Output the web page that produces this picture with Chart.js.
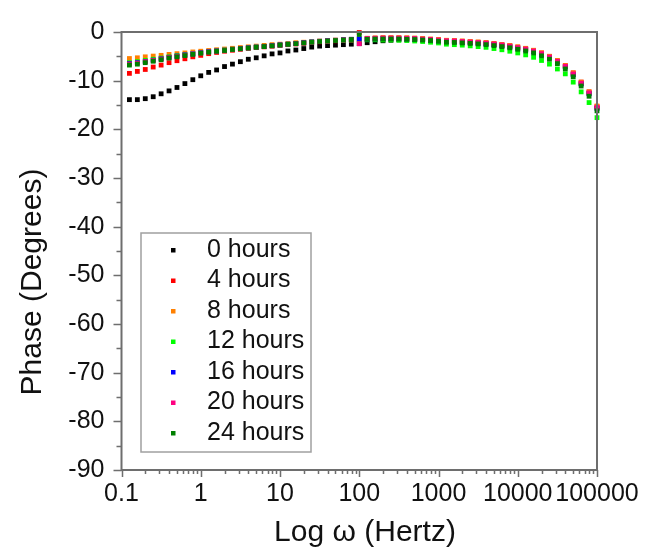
<!DOCTYPE html>
<html>
<head>
<meta charset="utf-8">
<script src="https://cdn.jsdelivr.net/npm/chart.js@4.4.1/dist/chart.umd.min.js"></script>
<style>
  html, body { margin: 0; padding: 0; background: #fff; }
  canvas { display: block; }
</style>
</head>
<body>
<canvas id="phaseChart" width="653" height="555"></canvas>
<script>
// frequencies (Hz), 10 points per decade
const freqs = [
  0.1259, 0.1585, 0.1995, 0.2512, 0.3162, 0.3981, 0.5012, 0.6310, 0.7943, 1,
  1.259, 1.585, 1.995, 2.512, 3.162, 3.981, 5.012, 6.310, 7.943, 10,
  12.59, 15.85, 19.95, 25.12, 31.62, 39.81, 50.12, 63.10, 79.43, 100,
  125.9, 158.5, 199.5, 251.2, 316.2, 398.1, 501.2, 631.0, 794.3, 1000,
  1259, 1585, 1995, 2512, 3162, 3981, 5012, 6310, 7943, 10000,
  12589, 15849, 19953, 25119, 31623, 39811, 50119, 63096, 79433, 100000
];

const hours0 = [
  -13.9, -13.9, -13.7, -13.3, -12.7, -12.1, -11.4, -10.6, -9.8, -9.0,
  -8.3, -7.8, -7.1, -6.6, -6.1, -5.6, -5.3, -4.9, -4.5, -4.3,
  -3.9, -3.7, -3.4, -3.1, -2.9, -2.8, -2.7, -2.6, -2.5, -2.4,
  -2.2, -2.0, -1.8, -1.7, -1.6, -1.6, -1.6, -1.65, -1.75, -1.85,
  -1.95, -2.0, -2.1, -2.2, -2.3, -2.4, -2.6, -2.8, -3.0, -3.3,
  -3.6, -4.0, -4.5, -5.2, -6.1, -7.1, -8.7, -10.6, -12.6, -15.6
];
const hours4 = [
  -8.5, -8.1, -7.7, -7.2, -6.8, -6.3, -5.9, -5.5, -5.1, -4.8,
  -4.45, -4.2, -3.95, -3.75, -3.55, -3.35, -3.2, -3.05, -2.9, -2.75,
  -2.6, -2.45, -2.3, -2.15, -2.0, -1.9, -1.8, -1.7, -1.6, -0.1,
  -1.3, -1.25, -1.2, -1.2, -1.2, -1.25, -1.3, -1.4, -1.5, -1.6,
  -1.75, -1.8, -1.9, -2.0, -2.1, -2.2, -2.4, -2.6, -2.8, -3.1,
  -3.4, -3.8, -4.3, -5.0, -5.9, -6.9, -8.4, -10.3, -12.3, -15.3
];
const hours8 = [
  -5.45, -5.3, -5.1, -4.95, -4.8, -4.6, -4.45, -4.3, -4.1, -3.95,
  -3.8, -3.65, -3.5, -3.35, -3.2, -3.05, -2.9, -2.75, -2.6, -2.5,
  -2.35, -2.2, -2.1, -2.0, -1.85, -1.75, -1.65, -1.55, -1.5, -1.45,
  -1.3, -1.25, -1.2, -1.2, -1.2, -1.2, -1.25, -1.35, -1.45, -1.55,
  -1.7, -1.75, -1.85, -1.95, -2.05, -2.2, -2.35, -2.55, -2.75, -3.05,
  -3.35, -3.75, -4.3, -5.0, -5.9, -6.9, -8.4, -10.3, -12.3, -15.2
];
const hours12 = [
  -6.3, -6.1, -5.85, -5.6, -5.35, -5.1, -4.85, -4.6, -4.4, -4.2,
  -4.0, -3.85, -3.7, -3.55, -3.4, -3.25, -3.1, -2.95, -2.8, -2.65,
  -2.5, -2.35, -2.2, -2.05, -1.95, -1.85, -1.75, -1.7, -1.65, -1.6,
  -1.6, -1.6, -1.65, -1.65, -1.7, -1.75, -1.85, -1.95, -2.1, -2.25,
  -2.5, -2.6, -2.7, -2.85, -3.0, -3.15, -3.4, -3.65, -3.95, -4.3,
  -4.7, -5.2, -5.85, -6.6, -7.6, -8.6, -10.3, -12.3, -14.5, -17.6
];
const hours16 = [
  -6.5, -6.3, -6.05, -5.8, -5.5, -5.2, -4.95, -4.7, -4.5, -4.25,
  -4.05, -3.9, -3.75, -3.55, -3.4, -3.25, -3.1, -2.95, -2.8, -2.65,
  -2.5, -2.35, -2.2, -2.05, -1.9, -1.8, -1.7, -1.6, -1.5, -1.4,
  -1.45, -1.4, -1.35, -1.35, -1.35, -1.4, -1.45, -1.55, -1.65, -1.8,
  -1.95, -2.0, -2.1, -2.2, -2.3, -2.45, -2.6, -2.8, -3.05, -3.35,
  -3.65, -4.05, -4.6, -5.3, -6.2, -7.2, -8.8, -10.7, -12.7, -15.7
];
const hours20 = [
  -6.6, -6.4, -6.1, -5.85, -5.55, -5.25, -5.0, -4.75, -4.5, -4.3,
  -4.1, -3.9, -3.75, -3.6, -3.45, -3.3, -3.15, -3.0, -2.85, -2.7,
  -2.55, -2.4, -2.25, -2.1, -1.95, -1.85, -1.75, -1.65, -1.6, -2.4,
  -1.35, -1.3, -1.25, -1.25, -1.25, -1.3, -1.35, -1.45, -1.55, -1.65,
  -1.8, -1.85, -1.95, -2.05, -2.15, -2.3, -2.45, -2.65, -2.9, -3.2,
  -3.5, -3.9, -4.45, -5.15, -6.05, -7.05, -8.6, -10.5, -12.5, -15.5
];
const hours24 = [
  -6.8, -6.6, -6.3, -6.0, -5.7, -5.35, -5.1, -4.85, -4.6, -4.35,
  -4.15, -3.95, -3.8, -3.6, -3.45, -3.3, -3.15, -3.0, -2.85, -2.7,
  -2.55, -2.4, -2.25, -2.1, -1.95, -1.85, -1.75, -1.65, -1.55, -0.5,
  -1.5, -1.45, -1.45, -1.45, -1.45, -1.5, -1.55, -1.65, -1.75, -1.9,
  -2.1, -2.15, -2.25, -2.35, -2.45, -2.6, -2.8, -3.0, -3.25, -3.55,
  -3.9, -4.3, -4.9, -5.6, -6.5, -7.6, -9.2, -11.1, -13.2, -16.2
];

const seriesLabels = ["0 hours", "4 hours", "8 hours", "12 hours", "16 hours", "20 hours", "24 hours"];
const seriesValues = [hours0, hours4, hours8, hours12, hours16, hours20, hours24];
const seriesColors = ["#000000", "#ff0000", "#ff8000", "#00ff00", "#0000ff", "#ff0080", "#008000"];

const xTicks = [0.1, 1, 10, 100, 1000, 10000, 100000];
const xTickLabels = ["0.1", "1", "10", "100", "1000", "10000", "100000"];
const yTicks = [0, -10, -20, -30, -40, -50, -60, -70, -80, -90];
const xTitle = "Log ω (Hertz)";
const yTitle = "Phase (Degrees)";

const FONT = "'Liberation Sans', Arial, sans-serif";
const AXIS_COLOR = "#6e6e6e";
const TEXT_COLOR = "#111";

// frame + major/minor tick marks
const framePlugin = {
  id: "frame",
  afterDraw(chart) {
    const { ctx, chartArea: a, scales } = chart;
    const xs = scales.x, ys = scales.y;
    ctx.save();
    ctx.strokeStyle = AXIS_COLOR;
    ctx.lineWidth = 2;
    ctx.strokeRect(a.left, a.top, a.right - a.left, a.bottom - a.top);

    ctx.lineWidth = 1.5;
    ctx.beginPath();
    // x ticks, pointing down
    for (let d = 0.1; d <= 100000; d *= 10) {
      for (let m = 1; m <= 9; m++) {
        const v = d * m;
        if (v > 100000 * 1.0001) break;
        const px = Math.round(xs.getPixelForValue(v)) + 0.5;
        const len = m === 1 ? 7 : 4;
        ctx.moveTo(px, a.bottom);
        ctx.lineTo(px, a.bottom + len);
      }
    }
    // y ticks, pointing left
    for (let v = 0; v >= -90; v -= 5) {
      const py = Math.round(ys.getPixelForValue(v)) + 0.5;
      const len = v % 10 === 0 ? 8 : 5;
      ctx.moveTo(a.left, py);
      ctx.lineTo(a.left - len, py);
    }
    ctx.stroke();

    // axis titles
    ctx.fillStyle = TEXT_COLOR;
    ctx.font = "30px " + FONT;
    ctx.textAlign = "center";
    ctx.textBaseline = "middle";
    ctx.fillText(xTitle, 365, 533);
    ctx.translate(33, 282);
    ctx.rotate(-Math.PI / 2);
    ctx.fillText(yTitle, 0, 0);
    ctx.restore();
  }
};

// legend box inside the plot
const legendPlugin = {
  id: "insideLegend",
  afterDraw(chart) {
    const { ctx } = chart;
    const box = { x: 141, y: 233, w: 170, h: 219 };
    ctx.save();
    ctx.fillStyle = "#fff";
    ctx.fillRect(box.x, box.y, box.w, box.h);
    ctx.strokeStyle = "#a0a0a0";
    ctx.lineWidth = 1.5;
    ctx.strokeRect(box.x, box.y, box.w, box.h);
    ctx.font = "25px " + FONT;
    ctx.textBaseline = "middle";
    ctx.textAlign = "left";
    chart.data.datasets.forEach((ds, i) => {
      const y = 250 + i * 30.5;
      ctx.fillStyle = ds.backgroundColor;
      ctx.fillRect(171, y - 2, 4.5, 4.5);
      ctx.fillStyle = TEXT_COLOR;
      ctx.fillText(ds.label, 207, y);
    });
    ctx.restore();
  }
};

const datasets = seriesLabels.map((label, i) => ({
  label: label,
  data: freqs.map((f, j) => ({ x: f, y: seriesValues[i][j] })),
  backgroundColor: seriesColors[i],
  borderColor: seriesColors[i],
  pointStyle: "rect",
  pointRadius: 3.4,
  pointBorderWidth: 0,
  showLine: false,
  order: seriesLabels.length - i,
  clip: false,
}));

new Chart(document.getElementById("phaseChart"), {
  type: "scatter",
  data: { datasets: datasets },
  options: {
    responsive: false,
    animation: false,
    events: [],
    layout: { padding: { left: 0, top: 17, right: 56, bottom: 0 } },
    plugins: { legend: { display: false }, tooltip: { enabled: false } },
    scales: {
      x: {
        type: "logarithmic",
        min: 0.1,
        max: 100000,
        afterFit: (scale) => { scale.height = 85; },
        afterBuildTicks: (scale) => { scale.ticks = xTicks.map((v) => ({ value: v })); },
        border: { display: false },
        grid: { drawOnChartArea: false, drawTicks: false },
        ticks: {
          autoSkip: false,
          maxRotation: 0,
          padding: 9,
          color: TEXT_COLOR,
          font: { family: FONT, size: 25 },
          callback: (v) => {
            const k = xTicks.findIndex((t) => Math.abs(t - v) < t * 1e-6);
            return k >= 0 ? xTickLabels[k] : "";
          },
        },
      },
      y: {
        min: -90,
        max: 0,
        afterFit: (scale) => { scale.width = 121.5; },
        afterBuildTicks: (scale) => { scale.ticks = yTicks.map((v) => ({ value: v })); },
        border: { display: false },
        grid: { drawOnChartArea: false, drawTicks: false },
        ticks: {
          padding: 17,
          color: TEXT_COLOR,
          font: { family: FONT, size: 25 },
        },
      },
    },
  },
  plugins: [framePlugin, legendPlugin],
});
</script>
</body>
</html>
